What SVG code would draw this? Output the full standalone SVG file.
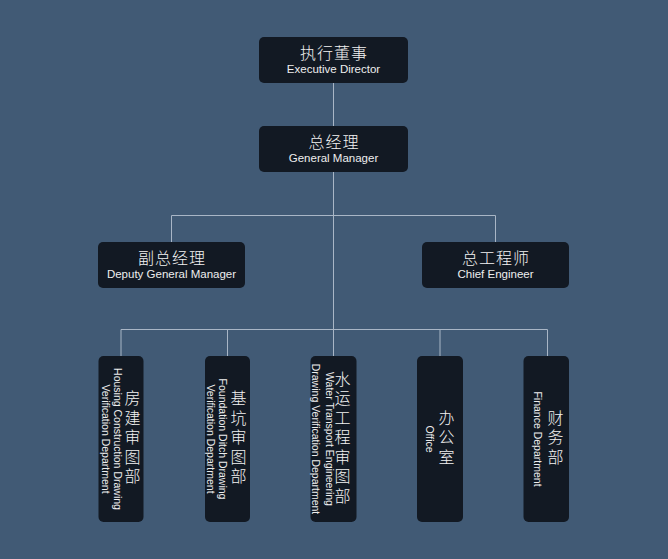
<svg xmlns="http://www.w3.org/2000/svg" width="668" height="559" viewBox="0 0 668 559">
<style>
.bg{fill:#415a75}
.box{fill:#121923}
.ln{stroke:#a9b6c6;stroke-width:1;fill:none}
.cn{font-family:"Noto Sans CJK SC","Noto Sans",sans-serif;font-weight:300;font-size:16px;fill:#f2f2f2;text-anchor:middle;letter-spacing:1px}
.en{font-family:"Liberation Sans",Arial,sans-serif;font-size:11.5px;fill:#eeeeee;text-anchor:middle}
.vcn{font-family:"Noto Sans CJK SC","Noto Sans",sans-serif;font-weight:300;font-size:16px;fill:#f2f2f2;text-anchor:middle;writing-mode:vertical-rl;letter-spacing:3.5px}
.ven{font-family:"Liberation Sans",Arial,sans-serif;font-size:10.5px;fill:#eeeeee;text-anchor:middle;writing-mode:vertical-rl}
</style>
<rect class="bg" x="0" y="0" width="668" height="559"/>
<g id="connectors">
<line class="ln" x1="333.5" y1="83" x2="333.5" y2="126"/>
<line class="ln" x1="333.5" y1="172" x2="333.5" y2="356"/>
<polyline class="ln" points="171.5,242 171.5,215.5 495.5,215.5 495.5,242"/>
<polyline class="ln" points="121,356 121,329.5 547.5,329.5 547.5,356"/>
<line class="ln" x1="227.5" y1="329.5" x2="227.5" y2="356"/>
<line class="ln" x1="440" y1="329.5" x2="440" y2="356"/>
</g>
<g id="executive-director">
<rect class="box" x="259" y="37" width="149" height="46" rx="5"/>
<text class="cn" x="334" y="58.5">执行董事</text>
<text class="en" x="333.5" y="72.5">Executive Director</text>
</g>
<g id="general-manager">
<rect class="box" x="259" y="126" width="149" height="46" rx="5"/>
<text class="cn" x="334" y="147.5">总经理</text>
<text class="en" x="333.5" y="161.5">General Manager</text>
</g>
<g id="deputy-general-manager">
<rect class="box" x="98" y="242" width="147" height="46" rx="5"/>
<text class="cn" x="172" y="263.5">副总经理</text>
<text class="en" x="171.5" y="277.5">Deputy General Manager</text>
</g>
<g id="chief-engineer">
<rect class="box" x="422" y="242" width="147" height="46" rx="5"/>
<text class="cn" x="496" y="263.5">总工程师</text>
<text class="en" x="495.5" y="277.5">Chief Engineer</text>
</g>
<g id="housing-dept">
<rect class="box" x="98.5" y="356" width="45" height="166" rx="5"/>
<text class="vcn" x="132.5" y="439">房建审图部</text>
<text class="ven" x="117.5" y="439">Housing Construction Drawing</text>
<text class="ven" x="106" y="439">Verification Department</text>
</g>
<g id="foundation-dept">
<rect class="box" x="205" y="356" width="45" height="166" rx="5"/>
<text class="vcn" x="238.5" y="439">基坑审图部</text>
<text class="ven" x="222.5" y="439">Foundation Ditch Drawing</text>
<text class="ven" x="211" y="439">Verification Department</text>
</g>
<g id="water-dept">
<rect class="box" x="310.5" y="356" width="46" height="166" rx="5"/>
<text class="vcn" x="342.5" y="439">水运工程审图部</text>
<text class="ven" x="329.5" y="439">Water Transport Engineering</text>
<text class="ven" x="316" y="439">Drawing Verification Department</text>
</g>
<g id="office">
<rect class="box" x="417" y="356" width="46" height="166" rx="5"/>
<text class="vcn" x="446.5" y="439">办公室</text>
<text class="ven" x="430" y="439">Office</text>
</g>
<g id="finance-dept">
<rect class="box" x="523.5" y="356" width="45.5" height="166" rx="5"/>
<text class="vcn" x="555.5" y="439">财务部</text>
<text class="ven" x="538" y="439">Finance Department</text>
</g>
</svg>
